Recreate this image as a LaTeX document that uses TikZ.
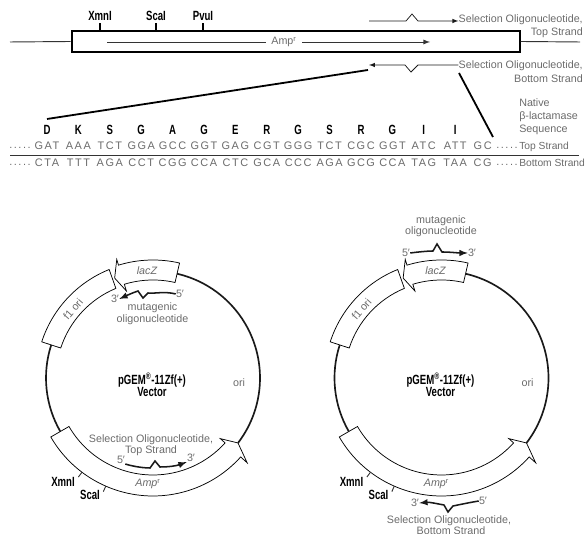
\documentclass[tikz,border=0pt]{standalone}
\usepackage{fontspec}
\usepackage{tikz}
\usetikzlibrary{shapes,arrows,positioning,calc}
\setmainfont{Liberation Sans}
\newfontfamily\narrowfont[FakeStretch=0.72]{Liberation Sans}
\newfontfamily\seqfont[LetterSpace=14]{Liberation Sans}
\definecolor{textgray}{gray}{0.42}
\tikzset{
  every node/.style={inner sep=0pt, text=textgray, font=\fontsize{8.05}{10}\selectfont},
  sitelabel/.style={text=black, font=\narrowfont\fontsize{10}{10}\selectfont\bfseries},
  seqtext/.style={font=\seqfont\fontsize{8.2}{10}\selectfont},
  rule/.style={line width=0.7pt, black!80},
  tickmark/.style={line width=1.1pt, black},
  zoomline/.style={line width=1.35pt, black},
  band/.style={draw=black, fill=white, line width=0.55pt},
  backbone/.style={line width=1.25pt, black!90},
  oligo/.style={line width=1.15pt, black!90, -latex},
  thinoligo/.style={line width=0.55pt, black!90, -latex}
}
% one circular vector: #1 prefix, #2 centre x
\newcommand{\vectormap}[2]{
\begin{scope}[shift={(#2,156)}, name prefix=#1-]
% backbone
\draw[backbone] (77:107) arc[start angle=77, end angle=-37.4, radius=107];
\draw[backbone] (162:107) arc[start angle=162, end angle=210, radius=107];
% features
\draw[band] (112.5:97) arc[start angle=112.5, end angle=162, radius=97] -- (162:117) arc[start angle=162, end angle=112, radius=117] -- cycle;
\draw[band] (77:98) arc[start angle=77, end angle=107, radius=98] -- (107:91) -- (111:107) -- (107:124) -- (107:118) arc[start angle=107, end angle=77, radius=118] -- cycle;
\draw[band] (210:97) arc[start angle=210, end angle=318, radius=97] -- (318:90.6) -- (322.6:107) -- (318:126.7) -- (318:118) arc[start angle=318, end angle=210, radius=118] -- cycle;
% restriction sites
\coordinate (xmnIn) at (233:118);
\coordinate (xmnOut) at (233:124);
\coordinate (scaIn) at (246.4:118);
\coordinate (scaOut) at (246.4:124);
\draw[rule] (xmnIn) -- (xmnOut);
\draw[rule] (scaIn) -- (scaOut);
\node[sitelabel] (xmn) at (-90,-104) {XmnI};
\node[sitelabel] (sca) at (-63,-117) {ScaI};
% labels
\node[font=\fontsize{8.05}{10}\selectfont\itshape] (lacz) at (-6,107) {lacZ};
\node[rotate=49] (fori) at (-80,69) {f1 ori};
\node (amp) at (-5,-106) {\textit{Amp}\textsuperscript{r}};
\node (ori) at (86,-5) {ori};
\node[sitelabel, align=center, font=\narrowfont\fontsize{10}{9.5}\selectfont\bfseries] (name) at (-1,-7) {pGEM\textsuperscript{®}-11Zf(+)\\Vector};
\end{scope}
}

\begin{document}
\begin{tikzpicture}[x=0.75pt, y=0.75pt]
\useasboundingbox (0,0) rectangle (586,534);
% linear map
\node[draw=black, line width=1.5pt, minimum width=336pt, minimum height=15.75pt, anchor=south west] (ampbox) at (70.7,481) {};
\coordinate (lineL) at (10,492);
\coordinate (lineR) at (580,492);
\draw[rule] (lineL) -- (ampbox.west);
\draw[rule] (ampbox.east) -- (lineR);
\node[inner xsep=4pt] (ampname) at (284,492) {Amp\textsuperscript{r}};
\coordinate (ampstart) at (107,492);
\coordinate (ampend) at (430,492);
\draw[rule] (ampstart) -- (ampname.west);
\draw[rule, -latex] (ampname.east) -- (ampend);
% sites on the box
\foreach \site/\xpos in {XmnI/100, ScaI/156, PvuI/203} {
  \node[sitelabel] (site\site) at (\xpos,518) {\site};
  \draw[tickmark] (site\site |- ampbox.north) -- (\xpos,511);
}
% selection oligos
\node[anchor=east] (selTop) at (583,514.5) {Selection Oligonucleotide,};
\node[anchor=east] (selTopB) at (583,501) {Top Strand};
\node[anchor=east] (selBot) at (583,468.5) {Selection Oligonucleotide,};
\node[anchor=east] (selBotB) at (583,455) {Bottom Strand};
\coordinate (selTopStart) at (369,513);
\coordinate (selBotEnd) at (369,469);
\draw[thinoligo] (selTopStart) -- (406,513) -- (412,520) -- (418,513) -- (selTop.west |- selTopStart);
\draw[thinoligo] (selBot.west |- selBotEnd) -- (418,469) -- (411,462) -- (405,469) -- (selBotEnd);
% expansion lines
\coordinate (zoomA) at (47,415);
\coordinate (zoomB) at (368,464);
\coordinate (zoomC) at (459,461);
\coordinate (zoomD) at (493,397);
\draw[zoomline] (zoomA) -- (zoomB);
\draw[zoomline] (zoomC) -- (zoomD);
% sequence
\foreach \amino/\codonT/\codonB [count=\i from 0] in {D/GAT/CTA, K/AAA/TTT, S/TCT/AGA, G/GGA/CCT, A/GCC/CGG, G/GGT/CCA, E/GAG/CTC, R/CGT/GCA, G/GGG/CCC, S/TCT/AGA, R/CGC/GCG, G/GGT/CCA, I/ATC/TAG, I/ATT/TAA} {
  \node[sitelabel] (aa\i) at (47+31.4*\i,404) {\amino};
  \node[seqtext] (codT\i) at (47+31.4*\i,388) {\codonT};
  \node[seqtext] (codB\i) at (47+31.4*\i,371) {\codonB};
}
\node[seqtext] (codTend) at (482.7,388) {GC};
\node[seqtext] (codBend) at (482.7,371) {CG};
\node[seqtext] (dotsTL) at (20,386) {.....};
\node[seqtext] (dotsBL) at (20,369) {.....};
\node[seqtext] (dotsTR) at (507,386) {.....};
\node[seqtext] (dotsBR) at (507,369) {.....};
\coordinate (ruleL) at (10,379);
\coordinate (ruleR) at (579,379);
\draw[rule] (ruleL) -- (ruleR);
\node[anchor=west] (natA) at (519,431) {Native};
\node[anchor=west] (natB) at (519,417) {β-lactamase};
\node[anchor=west] (natC) at (519,404) {Sequence};
\node[anchor=west, font=\fontsize{7.7}{10}\selectfont] (strandT) at (519,387) {Top Strand};
\node[anchor=west, font=\fontsize{7.7}{10}\selectfont] (strandB) at (519,371) {Bottom Strand};
% circular maps
\vectormap{left}{153}
\vectormap{right}{441.5}
% left: mutagenic oligo
\node (lfive) at (180,240) {5′};
\node (lthree) at (115,235) {3′};
\node (lmutA) at (152.5,226) {mutagenic};
\node (lmutB) at (152.5,214) {oligonucleotide};
\draw[oligo] (lfive.west) .. controls (165,243) and (152,240) .. (148,241) -- (143,236) -- (138,243) .. controls (132,241) and (128,239) .. (lthree.east);
% left: selection oligo, top strand
\node (selLa) at (151,94) {Selection Oligonucleotide,};
\node (selLb) at (151,83) {Top Strand};
\node (tfive) at (121,74) {5′};
\node (tthree) at (191,76) {3′};
\draw[oligo] (tfive.south east) .. controls (135,67) and (145,66) .. (150,66) -- (155,73) -- (160,67) .. controls (168,67) and (176,68) .. (tthree.south west);
% right: mutagenic oligo
\node (rmutA) at (441,313) {mutagenic};
\node (rmutB) at (441,302) {oligonucleotide};
\node (rfive) at (406,281) {5′};
\node (rthree) at (472,281) {3′};
\draw[oligo] (rfive.east) .. controls (418,282) and (428,283) .. (433,283) -- (437,290) -- (442,282) .. controls (450,282) and (458,281) .. (rthree.west);
% right: selection oligo, bottom strand
\node (selRa) at (449,13) {Selection Oligonucleotide,};
\node (selRb) at (451,3) {Bottom Strand};
\node (bfive) at (483,33) {5′};
\node (bthree) at (415,31) {3′};
\draw[oligo] (bfive.west) .. controls (467,31) and (458,29) .. (453,28) -- (448,22) -- (444,29) .. controls (438,30) and (430,32) .. (bthree.east);
\end{tikzpicture}
\end{document}
